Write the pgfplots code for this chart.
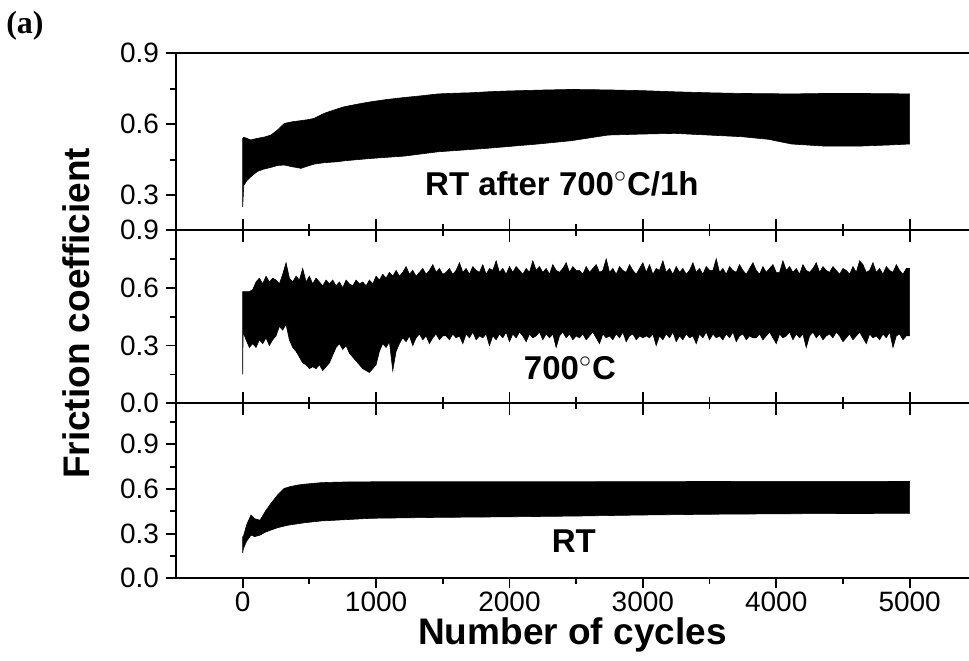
\documentclass[border=0pt]{standalone}
\usepackage{fontspec}
\setmainfont{Liberation Sans}
\newfontfamily\serifbold{Liberation Serif}
\usepackage{pgfplots}
\usepackage{pgfplotstable}
\pgfplotsset{compat=1.18}
\usepgfplotslibrary{fillbetween}

% envelopes of the friction signal: x = cycles, hi/lo = band edges
\pgfplotstableread{
x hi lo
0 0.54 0.25
8 0.545 0.34
30 0.54 0.36
60 0.533 0.377
110 0.54 0.40
160 0.545 0.41
212 0.554 0.417
260 0.575 0.425
312 0.603 0.427
370 0.61 0.42
437 0.615 0.413
500 0.62 0.425
537 0.625 0.431
612 0.646 0.437
712 0.665 0.441
763 0.674 0.445
863 0.685 0.450
963 0.695 0.455
1088 0.705 0.460
1213 0.713 0.465
1338 0.72 0.474
1463 0.728 0.483
1588 0.731 0.488
1713 0.733 0.493
1838 0.737 0.498
1963 0.74 0.504
2213 0.744 0.516
2463 0.747 0.530
2740 0.745 0.554
2990 0.742 0.558
3240 0.737 0.561
3490 0.733 0.554
3740 0.730 0.547
3940 0.729 0.536
4115 0.728 0.516
4365 0.730 0.507
4615 0.730 0.507
4850 0.729 0.512
5000 0.728 0.516
}\annealed

\pgfplotstableread{
x hi lo
0 0.58 0.15
3 0.58 0.37
25 0.58 0.33
50 0.58 0.29
75 0.59 0.31
100 0.63 0.29
125 0.65 0.33
150 0.62 0.31
175 0.66 0.34
200 0.63 0.30
225 0.65 0.33
250 0.64 0.35
275 0.62 0.40
300 0.67 0.38
325 0.73 0.41
350 0.65 0.33
375 0.63 0.29
400 0.66 0.27
425 0.64 0.24
450 0.70 0.21
475 0.63 0.20
500 0.66 0.18
525 0.62 0.19
550 0.65 0.18
575 0.63 0.20
600 0.61 0.17
625 0.64 0.19
650 0.62 0.21
675 0.64 0.25
700 0.61 0.29
725 0.63 0.31
750 0.60 0.28
775 0.64 0.30
800 0.62 0.26
825 0.61 0.24
850 0.64 0.22
875 0.62 0.20
900 0.63 0.18
925 0.61 0.17
950 0.64 0.16
975 0.62 0.18
1000 0.66 0.20
1025 0.64 0.27
1050 0.67 0.31
1075 0.65 0.29
1100 0.68 0.32
1125 0.66 0.17
1150 0.69 0.27
1175 0.66 0.31
1200 0.68 0.34
1225 0.71 0.32
1250 0.67 0.35
1275 0.69 0.30
1300 0.66 0.34
1325 0.68 0.36
1350 0.70 0.33
1375 0.67 0.35
1400 0.69 0.31
1425 0.72 0.34
1450 0.68 0.36
1475 0.70 0.33
1500 0.67 0.35
1525 0.68 0.35
1550 0.70 0.33
1575 0.67 0.36
1600 0.69 0.34
1625 0.73 0.35
1650 0.68 0.31
1675 0.70 0.36
1700 0.67 0.34
1725 0.71 0.37
1750 0.69 0.33
1775 0.68 0.35
1800 0.72 0.34
1825 0.67 0.36
1850 0.70 0.30
1875 0.69 0.35
1900 0.74 0.33
1925 0.68 0.36
1950 0.70 0.34
1975 0.67 0.37
2000 0.71 0.32
2025 0.68 0.36
2050 0.71 0.34
2075 0.69 0.37
2100 0.67 0.35
2125 0.70 0.32
2150 0.68 0.36
2175 0.74 0.34
2200 0.69 0.35
2225 0.71 0.37
2250 0.68 0.33
2275 0.70 0.36
2300 0.67 0.34
2325 0.72 0.36
2350 0.69 0.29
2375 0.68 0.35
2400 0.70 0.37
2425 0.73 0.34
2450 0.68 0.36
2475 0.71 0.33
2500 0.69 0.35
2525 0.69 0.34
2550 0.67 0.36
2575 0.71 0.33
2600 0.68 0.35
2625 0.70 0.37
2650 0.72 0.34
2675 0.68 0.31
2700 0.69 0.36
2725 0.75 0.34
2750 0.68 0.35
2775 0.70 0.33
2800 0.67 0.36
2825 0.71 0.34
2850 0.69 0.37
2875 0.68 0.32
2900 0.72 0.35
2925 0.69 0.36
2950 0.67 0.33
2975 0.70 0.35
3000 0.73 0.34
3025 0.68 0.35
3050 0.72 0.34
3075 0.67 0.36
3100 0.70 0.30
3125 0.69 0.35
3150 0.74 0.33
3175 0.68 0.36
3200 0.70 0.34
3225 0.67 0.37
3250 0.71 0.32
3275 0.68 0.35
3300 0.70 0.33
3325 0.67 0.36
3350 0.69 0.34
3375 0.73 0.35
3400 0.68 0.31
3425 0.70 0.36
3450 0.67 0.34
3475 0.71 0.37
3500 0.69 0.33
3525 0.69 0.36
3550 0.75 0.34
3575 0.68 0.35
3600 0.70 0.33
3625 0.67 0.36
3650 0.71 0.34
3675 0.69 0.37
3700 0.68 0.32
3725 0.72 0.35
3750 0.69 0.36
3775 0.67 0.33
3800 0.70 0.35
3825 0.73 0.34
3850 0.69 0.34
3875 0.67 0.36
3900 0.71 0.33
3925 0.68 0.35
3950 0.70 0.37
3975 0.72 0.34
4000 0.68 0.31
4025 0.68 0.36
4050 0.74 0.34
4075 0.69 0.35
4100 0.71 0.37
4125 0.68 0.33
4150 0.70 0.36
4175 0.67 0.34
4200 0.72 0.36
4225 0.69 0.29
4250 0.68 0.35
4275 0.70 0.37
4300 0.73 0.34
4325 0.68 0.36
4350 0.71 0.33
4375 0.69 0.35
4400 0.68 0.36
4425 0.71 0.34
4450 0.69 0.37
4475 0.67 0.35
4500 0.70 0.32
4525 0.69 0.34
4550 0.67 0.36
4575 0.71 0.33
4600 0.68 0.35
4625 0.74 0.37
4650 0.72 0.34
4675 0.68 0.31
4700 0.69 0.36
4725 0.73 0.34
4750 0.68 0.35
4775 0.70 0.33
4800 0.67 0.36
4825 0.71 0.34
4850 0.69 0.37
4875 0.68 0.29
4900 0.72 0.35
4925 0.69 0.36
4950 0.67 0.33
4975 0.70 0.35
5000 0.70 0.35
}\hot

\pgfplotstableread{
x hi lo
0 0.28 0.17
5 0.28 0.20
30 0.36 0.25
62 0.425 0.29
90 0.40 0.28
130 0.39 0.29
170 0.45 0.31
212 0.503 0.324
262 0.56 0.34
312 0.604 0.351
362 0.617 0.36
412 0.626 0.366
462 0.632 0.373
587 0.642 0.385
712 0.646 0.391
963 0.648 0.403
1463 0.648 0.409
2000 0.648 0.413
2500 0.648 0.418
3000 0.649 0.425
3500 0.650 0.430
4000 0.651 0.433
4500 0.651 0.435
5000 0.650 0.436
}\roomtemp

\pgfplotsset{
  panel/.style={
    scale only axis, width=396.5pt,
    xmin=-500, xmax=5445,
    axis x line*=box, axis y line*=left,
    axis line style={line width=1pt},
    every tick/.style={black, line width=0.9pt},
    major tick length=5pt, minor tick length=2.8pt,
    xtick={0,1000,2000,3000,4000,5000},
    minor xtick={500,1500,2500,3500,4500},
    xtick pos=bottom, ytick pos=left,
    ytick align=outside,
    tick label style={font=\fontsize{14}{16}\selectfont},
    /pgf/number format/assume math mode=true,
    yticklabel style={/pgf/number format/.cd, fixed, fixed zerofill, precision=1},
    xticklabel style={/pgf/number format/set thousands separator={}},
  },
  shared/.style={
    xtick align=center, xticklabels={},
    xtick style={/pgfplots/major tick length=11.5pt, /pgfplots/minor tick length=6pt},
  },
}

\begin{document}
\begin{tikzpicture}
% bottom: RT
\begin{axis}[panel, at={(0,0)}, anchor=south west, height=87.5pt,
  ymin=0, ymax=1.175, ytick={0,0.3,0.6,0.9}, minor ytick={0.15,0.45,0.75,1.05},
  xtick align=outside,
  xticklabel style={yshift=1.5pt},
  xlabel={\bfseries Number of cycles},
  xlabel style={font=\fontsize{18.5}{20}\selectfont, at={(axis description cs:0.5,0)}, anchor=base, yshift=-33pt}]
\addplot[draw=none, name path=cU] table[x=x, y=hi]{\roomtemp};
\addplot[draw=none, name path=cL] table[x=x, y=lo]{\roomtemp};
\addplot[fill=black, draw=black, line width=0.3pt] fill between[of=cU and cL];
\node[font=\bfseries\fontsize{16.5}{18}\selectfont, anchor=base] at (axis cs:2483,0.17) {RT};
\end{axis}
% middle: 700 C
\begin{axis}[panel, shared, at={(0,87.5pt)}, anchor=south west, height=86.65pt,
  ymin=0, ymax=0.9, ytick={0,0.3,0.6,0.9}, minor ytick={0.15,0.45,0.75}]
\addplot[draw=none, name path=hU] table[x=x, y=hi]{\hot};
\addplot[draw=none, name path=hL] table[x=x, y=lo]{\hot};
\addplot[fill=black, draw=black, line width=0.3pt] fill between[of=hU and hL];
\node[font=\bfseries\fontsize{16.5}{18}\selectfont, anchor=base] at (axis cs:2453,0.122) {700$^{\circ}$C};
\end{axis}
% top: RT after 700 C/1h
\begin{axis}[panel, shared, at={(0,174.15pt)}, anchor=south west, height=88.35pt,
  ymin=0.152, ymax=0.9, ytick={0.3,0.6,0.9}, minor ytick={0.45,0.75}]
\addplot[draw=none, name path=aU] table[x=x, y=hi]{\annealed};
\addplot[draw=none, name path=aL] table[x=x, y=lo]{\annealed};
\addplot[fill=black, draw=black, line width=0.3pt] fill between[of=aU and aL];
\node[font=\bfseries\fontsize{16.5}{18}\selectfont, anchor=base] at (axis cs:2393,0.30) {RT after 700$^{\circ}$C/1h};
\end{axis}
\node[rotate=90, font=\bfseries\fontsize{18.5}{20}\selectfont] at (-50pt,132.4pt) {Friction coefficient};
\node[font=\serifbold\bfseries\fontsize{16}{18}\selectfont] at (-75.5pt,276.2pt) {(a)};
\pgfresetboundingbox
\useasboundingbox (-88pt,-40.85pt) rectangle (396.5pt,289.15pt);
\end{tikzpicture}
\end{document}
